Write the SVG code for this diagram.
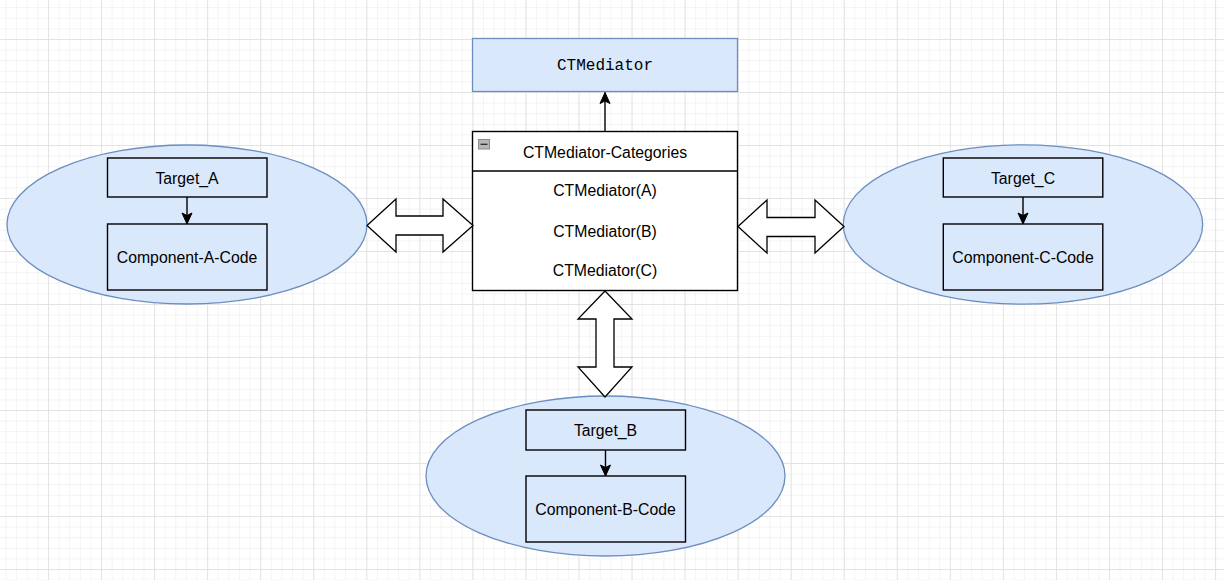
<svg xmlns="http://www.w3.org/2000/svg" width="1224" height="580" viewBox="0 0 1224 580">
  <defs>
    <pattern id="minor" patternUnits="userSpaceOnUse" x="48" y="39" width="10.61" height="10.6">
      <path d="M0 0 V10.6 M0 0 H10.61" fill="none" stroke="#efefef" stroke-width="1.3"/>
    </pattern>
    <pattern id="major" patternUnits="userSpaceOnUse" x="48" y="39" width="53.05" height="53">
      <path d="M0 0 V53 M0 0 H53.05" fill="none" stroke="#dedede" stroke-width="1.5"/>
    </pattern>
    <marker id="arr" markerUnits="userSpaceOnUse" markerWidth="14" markerHeight="14" viewBox="0 0 14 14" refX="12.5" refY="7" orient="auto">
      <path d="M1.5 2 L12.5 7 L1.5 12 L4 7 Z" fill="#000" stroke="#000" stroke-width="1"/>
    </marker>
    <style>
      .box { fill: #dae8fc; stroke: #000; stroke-width: 1.4; }
      .ell { fill: #dae8fc; stroke: #6c8ebf; stroke-width: 1.3; }
      .lbl { font-family: "Liberation Sans", Arial, sans-serif; font-size: 15.8px; fill: #000; text-anchor: middle; }
      .mono { font-family: "Liberation Mono", "Courier New", monospace; font-size: 16px; fill: #000; text-anchor: middle; }
      .dbl { fill: #fff; stroke: #000; stroke-width: 1.3; stroke-linejoin: miter; }
      .line { fill: none; stroke: #000; stroke-width: 1.4; }
    </style>
  </defs>
  <rect width="1224" height="580" fill="#fff"/>
  <rect width="1224" height="580" fill="url(#minor)"/>
  <rect width="1224" height="580" fill="url(#major)"/>

  <g id="ctmediator">
    <rect x="472.5" y="38.5" width="265" height="53" fill="#dae8fc" stroke="#6c8ebf" stroke-width="1.3"/>
    <text class="mono" x="605" y="70">CTMediator</text>
  </g>

  <g id="categories">
    <rect x="472.5" y="131.5" width="265" height="159" fill="#fff" stroke="#000" stroke-width="1.4"/>
    <line x1="472.5" y1="171" x2="737.5" y2="171" stroke="#000" stroke-width="1.4"/>
    <rect x="478.5" y="139.5" width="11" height="9.5" fill="#b8b8b8" stroke="#8a8a8a" stroke-width="1"/>
    <line x1="480.5" y1="144.3" x2="487.5" y2="144.3" stroke="#333" stroke-width="1.4"/>
    <text class="lbl" x="605" y="157.5">CTMediator-Categories</text>
    <text class="lbl" x="605" y="196">CTMediator(A)</text>
    <text class="lbl" x="605" y="236.5">CTMediator(B)</text>
    <text class="lbl" x="605" y="276">CTMediator(C)</text>
  </g>

  <g id="moduleA">
    <ellipse class="ell" cx="187" cy="224.5" rx="180" ry="79.5"/>
    <rect class="box" x="107.5" y="158" width="159.5" height="39"/>
    <text class="lbl" x="187" y="183.5">Target_A</text>
    <rect class="box" x="107.5" y="224" width="159.5" height="66"/>
    <text class="lbl" x="187" y="262.8">Component-A-Code</text>
  </g>

  <g id="moduleC">
    <ellipse class="ell" cx="1023" cy="224.5" rx="179.7" ry="79.7"/>
    <rect class="box" x="943.3" y="158" width="159.5" height="39"/>
    <text class="lbl" x="1023" y="183.5">Target_C</text>
    <rect class="box" x="943.3" y="224" width="159.5" height="66"/>
    <text class="lbl" x="1023" y="262.8">Component-C-Code</text>
  </g>

  <g id="moduleB">
    <ellipse class="ell" cx="605.5" cy="476" rx="179.5" ry="80"/>
    <rect class="box" x="526" y="410" width="159.5" height="40"/>
    <text class="lbl" x="605.5" y="435.8">Target_B</text>
    <rect class="box" x="526" y="476" width="159.5" height="66"/>
    <text class="lbl" x="605.5" y="514.8">Component-B-Code</text>
  </g>

  <g id="connectors">
    <line class="line" x1="605" y1="131" x2="605" y2="92.5" marker-end="url(#arr)"/>
    <line class="line" x1="187" y1="197" x2="187" y2="224" marker-end="url(#arr)"/>
    <line class="line" x1="1023" y1="197" x2="1023" y2="224" marker-end="url(#arr)"/>
    <line class="line" x1="605.5" y1="450" x2="605.5" y2="476" marker-end="url(#arr)"/>
    <polygon class="dbl" points="367,225.5 396,199 396,216 443,216 443,199 473,225.5 443,252 443,235 396,235 396,252"/>
    <polygon class="dbl" points="738,226.5 767,200 767,217.5 815,217.5 815,200 844,226.5 815,253 815,236.5 767,236.5 767,253"/>
    <polygon class="dbl" points="605,291 632,319 614,319 614,367 632,367 605,397 578,367 596,367 596,319 578,319"/>
  </g>
</svg>
